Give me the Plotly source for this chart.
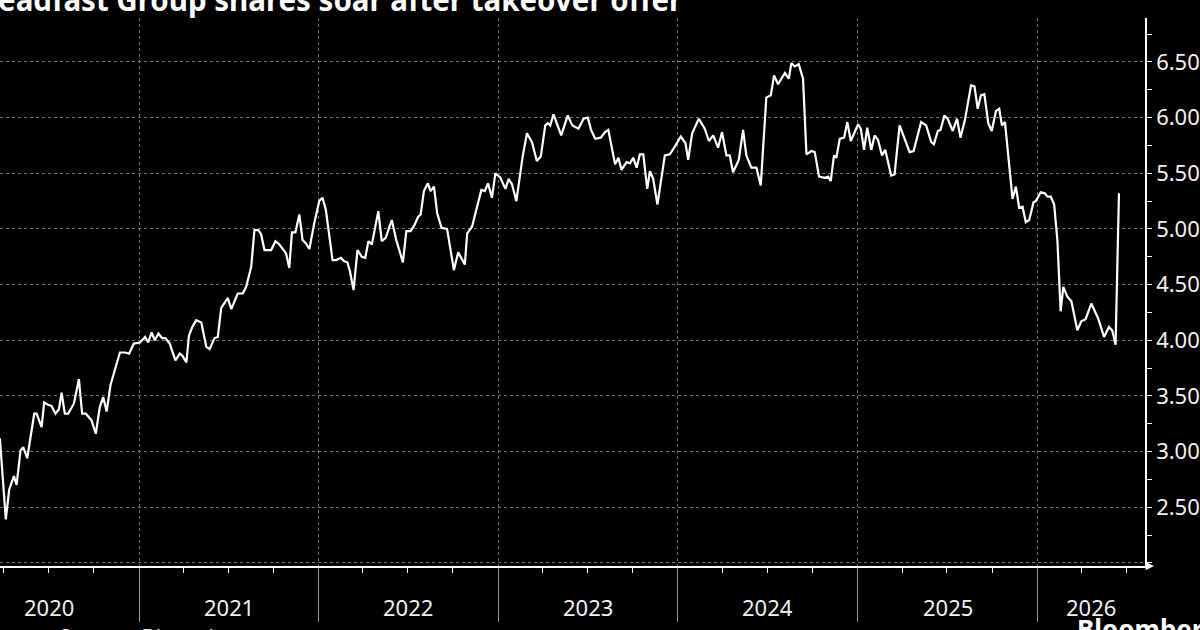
import pandas as pd
import plotly.graph_objects as go

# ---- data (decimal year, share price A$) ----
t_year = [
    2020.226, 2020.259, 2020.278, 2020.304, 2020.319, 2020.341, 2020.356, 2020.378, 2020.417, 2020.430,
    2020.458, 2020.472, 2020.494, 2020.513, 2020.535, 2020.554, 2020.569, 2020.587, 2020.605, 2020.637,
    2020.665, 2020.683, 2020.704, 2020.735, 2020.759, 2020.781, 2020.800, 2020.819, 2020.841, 2020.865,
    2020.893, 2020.920, 2020.944, 2020.970, 2021.004, 2021.033, 2021.050, 2021.069, 2021.087, 2021.107,
    2021.127, 2021.146, 2021.170, 2021.202, 2021.226, 2021.241, 2021.263, 2021.277, 2021.296, 2021.318,
    2021.333, 2021.346, 2021.374, 2021.392, 2021.420, 2021.438, 2021.457, 2021.494, 2021.513, 2021.549,
    2021.577, 2021.596, 2021.624, 2021.642, 2021.664, 2021.679, 2021.698, 2021.735, 2021.759, 2021.781,
    2021.818, 2021.836, 2021.851, 2021.870, 2021.892, 2021.910, 2021.929, 2021.948, 2021.975, 2022.003,
    2022.021, 2022.040, 2022.077, 2022.096, 2022.124, 2022.142, 2022.160, 2022.174, 2022.194, 2022.216,
    2022.240, 2022.259, 2022.277, 2022.296, 2022.332, 2022.351, 2022.373, 2022.407, 2022.432, 2022.469,
    2022.488, 2022.512, 2022.535, 2022.554, 2022.568, 2022.586, 2022.608, 2022.623, 2022.642, 2022.660,
    2022.684, 2022.715, 2022.753, 2022.777, 2022.814, 2022.827, 2022.854, 2022.906, 2022.925, 2022.943,
    2022.965, 2022.984, 2023.012, 2023.040, 2023.058, 2023.077, 2023.101, 2023.136, 2023.160, 2023.188,
    2023.215, 2023.237, 2023.262, 2023.276, 2023.290, 2023.308, 2023.351, 2023.387, 2023.413, 2023.447,
    2023.475, 2023.499, 2023.517, 2023.540, 2023.571, 2023.595, 2023.613, 2023.651, 2023.669, 2023.687,
    2023.715, 2023.734, 2023.752, 2023.771, 2023.789, 2023.808, 2023.830, 2023.845, 2023.863, 2023.887,
    2023.928, 2023.956, 2023.980, 2024.017, 2024.043, 2024.058, 2024.080, 2024.117, 2024.150, 2024.173,
    2024.197, 2024.224, 2024.246, 2024.270, 2024.289, 2024.307, 2024.339, 2024.363, 2024.381, 2024.409,
    2024.437, 2024.461, 2024.492, 2024.517, 2024.535, 2024.557, 2024.595, 2024.617, 2024.631, 2024.650,
    2024.672, 2024.696, 2024.715, 2024.742, 2024.761, 2024.785, 2024.817, 2024.835, 2024.850, 2024.868,
    2024.881, 2024.900, 2024.924, 2024.942, 2024.961, 2025.002, 2025.017, 2025.035, 2025.053, 2025.075,
    2025.094, 2025.113, 2025.135, 2025.153, 2025.186, 2025.205, 2025.233, 2025.261, 2025.289, 2025.311,
    2025.353, 2025.381, 2025.409, 2025.424, 2025.446, 2025.461, 2025.483, 2025.501, 2025.529, 2025.553,
    2025.572, 2025.597, 2025.631, 2025.650, 2025.668, 2025.686, 2025.705, 2025.727, 2025.746, 2025.770,
    2025.788, 2025.803, 2025.820, 2025.862, 2025.881, 2025.899, 2025.918, 2025.936, 2025.955, 2025.979,
    2025.992, 2026.019, 2026.042, 2026.057, 2026.075, 2026.094, 2026.112, 2026.130, 2026.145, 2026.168,
    2026.190, 2026.223, 2026.245, 2026.269, 2026.301, 2026.338, 2026.372, 2026.399, 2026.417, 2026.436,
    2026.455,
]
price = [
    3.12, 2.39, 2.66, 2.78, 2.70, 3.01, 3.04, 2.94, 3.34, 3.34,
    3.22, 3.44, 3.42, 3.41, 3.34, 3.38, 3.53, 3.34, 3.34, 3.43,
    3.65, 3.34, 3.34, 3.28, 3.16, 3.40, 3.49, 3.36, 3.60, 3.73,
    3.89, 3.89, 3.88, 3.97, 3.98, 4.03, 3.98, 4.07, 4.00, 4.06,
    4.02, 4.02, 3.97, 3.82, 3.88, 3.86, 3.80, 4.04, 4.12, 4.18,
    4.17, 4.16, 3.94, 3.92, 4.02, 4.03, 4.29, 4.38, 4.28, 4.42,
    4.42, 4.48, 4.66, 4.99, 4.99, 4.95, 4.81, 4.81, 4.89, 4.86,
    4.78, 4.65, 4.97, 4.97, 5.13, 4.90, 4.87, 4.82, 5.05, 5.25,
    5.28, 5.17, 4.72, 4.72, 4.74, 4.71, 4.70, 4.62, 4.45, 4.81,
    4.75, 4.74, 4.89, 4.86, 5.16, 4.89, 4.92, 5.08, 4.90, 4.70,
    4.98, 4.98, 5.04, 5.11, 5.13, 5.34, 5.41, 5.34, 5.38, 5.14,
    5.01, 5.00, 4.63, 4.79, 4.68, 4.96, 5.02, 5.35, 5.34, 5.41,
    5.28, 5.50, 5.46, 5.36, 5.45, 5.40, 5.25, 5.65, 5.86, 5.78,
    5.61, 5.65, 5.93, 5.95, 5.93, 6.03, 5.84, 6.02, 5.93, 5.90,
    5.99, 6.00, 5.89, 5.81, 5.82, 5.87, 5.89, 5.58, 5.64, 5.53,
    5.60, 5.59, 5.64, 5.55, 5.67, 5.67, 5.36, 5.52, 5.45, 5.22,
    5.66, 5.67, 5.73, 5.83, 5.77, 5.62, 5.86, 5.99, 5.90, 5.79,
    5.84, 5.73, 5.87, 5.66, 5.66, 5.51, 5.62, 5.89, 5.66, 5.55,
    5.55, 5.39, 6.18, 6.20, 6.38, 6.30, 6.40, 6.35, 6.49, 6.46,
    6.48, 6.35, 5.67, 5.70, 5.69, 5.47, 5.46, 5.47, 5.43, 5.66,
    5.64, 5.81, 5.82, 5.96, 5.79, 5.94, 5.90, 5.71, 5.91, 5.71,
    5.84, 5.80, 5.66, 5.71, 5.48, 5.49, 5.93, 5.81, 5.69, 5.70,
    5.96, 5.93, 5.78, 5.76, 5.88, 5.89, 6.02, 5.99, 5.88, 5.99,
    5.82, 5.98, 6.29, 6.28, 6.08, 6.20, 6.21, 5.95, 5.88, 6.06,
    6.08, 5.93, 5.96, 5.27, 5.38, 5.19, 5.20, 5.06, 5.08, 5.24,
    5.25, 5.33, 5.32, 5.29, 5.29, 5.22, 4.90, 4.26, 4.48, 4.39,
    4.35, 4.09, 4.17, 4.19, 4.33, 4.20, 4.03, 4.12, 4.09, 3.96,
    5.32,
]
year_labels = ["2020", "2021", "2022", "2023", "2024", "2025", "2026"]
y_tick_vals = [2.0, 2.5, 3.0, 3.5, 4.0, 4.5, 5.0, 5.5, 6.0, 6.5]
title_text = "Steadfast Group shares soar after takeover offer"
source_text = "Source: Bloomberg"
brand_text = "Bloomberg"


def to_date(t):
    y = int(t)
    start = pd.Timestamp(y, 1, 1)
    ndays = (pd.Timestamp(y + 1, 1, 1) - start).days
    return start + pd.Timedelta(days=(t - y) * ndays)


dates = [to_date(t) for t in t_year]

# ---- layout constants ----
W, H = 1200, 630
ML, MR, MT, MB = 0, 52, 18, 64
PW, PH = W - ML - MR, H - MT - MB
X_START = pd.Timestamp("2020-03-24")
X_END = pd.Timestamp("2026-08-08")
CHART_START = pd.Timestamp("2020-01-01")  # start of the original (cropped) axis
Y_RANGE = [1.972, 6.895]
GRID = "rgba(150,150,150,0.75)"
FONT = "Noto Sans"

fig = go.Figure()
fig.add_trace(go.Scatter(x=dates, y=price, mode="lines",
                         line=dict(color="white", width=2.2), hoverinfo="skip"))

year_starts = [pd.Timestamp(int(y), 1, 1) for y in year_labels[1:]]
quarters = [d for d in pd.date_range("2020-04-01", "2026-10-01", freq="QS")
            if d.month != 1]

fig.update_xaxes(
    type="date", range=[X_START, X_END],
    tickmode="array", tickvals=year_starts, showticklabels=False,
    ticks="outside", ticklen=54, tickwidth=1, tickcolor="#9a9a9a",
    showgrid=True, gridcolor=GRID, griddash="dot", gridwidth=1,
    showline=True, linecolor="white", linewidth=1.5, zeroline=False,
    minor=dict(tickmode="array", tickvals=quarters, ticks="outside",
               ticklen=5, tickwidth=1, tickcolor="white", showgrid=False),
)
fig.update_yaxes(
    side="right", range=Y_RANGE,
    tickmode="array", tickvals=y_tick_vals,
    ticktext=["" if v == 2.0 else f"{v:.2f}" for v in y_tick_vals],
    ticks="outside", ticklen=5, tickwidth=1, tickcolor="white",
    tickfont=dict(family=FONT, size=22, color="#f2f2f2"),
    showgrid=True, gridcolor=GRID, griddash="dot", gridwidth=1,
    showline=True, linecolor="white", linewidth=1.5, zeroline=False,
    minor=dict(tickvals=[v + 0.25 for v in y_tick_vals], ticks="outside",
               ticklen=5, tickwidth=1, tickcolor="white", showgrid=False),
)

annotations = []
# year labels centred on each year's visible span
for lab in year_labels:
    y = int(lab)
    a = max(pd.Timestamp(y, 1, 1), CHART_START)
    b = min(pd.Timestamp(y + 1, 1, 1), X_END)
    mid = a + (b - a) / 2
    annotations.append(dict(x=mid, xref="x", y=-(607 - (H - MB)) / PH, yref="paper",
                            text=lab, showarrow=False, xanchor="center", yanchor="middle",
                            font=dict(family=FONT, size=22, color="#f2f2f2")))
# title (cropped at top / left like the reference)
annotations.append(dict(x=686 / PW, xref="paper", y=1.0 - 4 / PH, yref="paper",
                        text=f"<b>{title_text}</b>", showarrow=False,
                        xanchor="right", yanchor="bottom",
                        font=dict(family=FONT, size=29.5, color="white")))
# source (cropped at bottom)
annotations.append(dict(x=57 / PW, xref="paper", y=-(619 - (H - MB)) / PH, yref="paper",
                        text=source_text, showarrow=False, xanchor="left", yanchor="top",
                        font=dict(family=FONT, size=22, color="#e0e0e0")))
annotations.append(dict(x=1078 / PW, xref="paper", y=-(609 - (H - MB)) / PH, yref="paper",
                        text=f"<b>{brand_text}</b>", showarrow=False, xanchor="left", yanchor="top",
                        font=dict(family=FONT, size=26, color="white")))
# arrow at end of x axis
annotations.append(dict(x=1157 / PW, xref="paper", y=0, yref="paper", ax=-10, ay=0,
                        text="", showarrow=True, arrowhead=2, arrowsize=1.1,
                        arrowwidth=1.5, arrowcolor="white"))

fig.update_layout(
    width=W, height=H, margin=dict(l=ML, r=MR, t=MT, b=MB),
    paper_bgcolor="black", plot_bgcolor="black", showlegend=False,
    annotations=annotations, font=dict(family=FONT, color="white"),
)

fig.write_html("out.html")
